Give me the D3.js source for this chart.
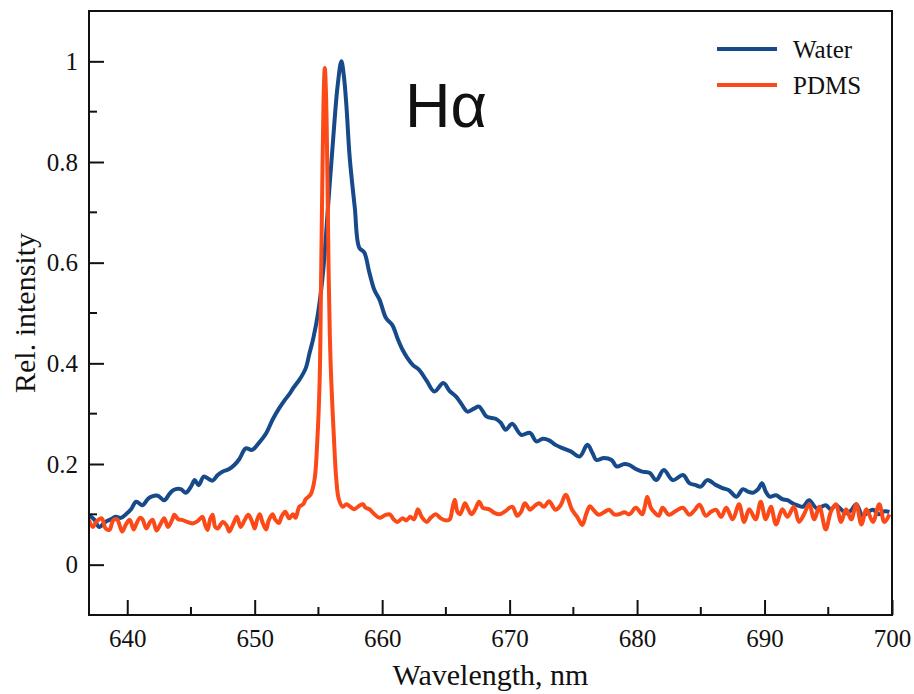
<!DOCTYPE html>
<html>
<head>
<meta charset="utf-8">
<script src="https://cdn.jsdelivr.net/npm/d3@7"></script>
<style>
  body { margin: 0; background: #fff; }
  text { font-family: "Liberation Serif", "Times New Roman", serif; fill: #111; }
</style>
</head>
<body>
<svg id="chart" width="914" height="694"></svg>
<script>
// ---- data ----
var waterWl = [637.0,637.4,637.8,638.3,638.7,639.1,639.5,639.9,640.3,640.7,641.2,641.6,641.9,642.4,642.9,643.3,643.6,644.2,644.6,645.0,645.3,645.6,646.0,646.4,646.7,647.1,647.5,648.0,648.4,648.8,649.3,649.8,650.3,650.9,651.4,651.9,652.3,652.75,653.0,653.5,654.0,654.3,654.6,654.97,655.36,655.75,656.15,656.5,656.8,657.0,657.2,657.45,657.85,658.2,658.6,659.0,659.4,659.8,660.3,660.8,661.2,661.6,662.0,662.4,662.9,663.5,664.1,664.8,665.3,665.8,666.2,666.7,667.2,667.6,668.2,668.9,669.3,669.7,670.2,670.9,671.6,672.1,672.6,673.1,673.6,674.2,674.8,675.5,676.1,676.5,676.8,677.4,678.0,678.4,679.0,679.4,679.9,680.4,681.0,681.5,682.1,682.8,683.6,684.1,684.6,685.0,685.5,686.2,686.7,687.2,687.8,688.3,688.7,689.1,689.5,689.8,690.1,690.4,690.9,691.4,691.8,692.2,692.6,693.0,693.5,694.1,694.8,695.2,695.6,696.0,696.4,696.8,697.2,697.7,698.1,698.5,699.0,699.4,699.8];
var waterVal = [0.098,0.09,0.075,0.085,0.09,0.095,0.093,0.10,0.11,0.125,0.118,0.13,0.135,0.137,0.128,0.14,0.148,0.15,0.143,0.155,0.168,0.158,0.175,0.17,0.167,0.178,0.185,0.19,0.198,0.21,0.231,0.228,0.241,0.261,0.288,0.31,0.325,0.34,0.35,0.367,0.39,0.42,0.45,0.50,0.58,0.71,0.844,0.95,1.0,0.97,0.91,0.81,0.71,0.63,0.62,0.58,0.545,0.526,0.49,0.476,0.45,0.427,0.41,0.397,0.387,0.365,0.344,0.361,0.345,0.334,0.32,0.304,0.31,0.314,0.294,0.29,0.282,0.268,0.28,0.258,0.262,0.245,0.25,0.247,0.238,0.231,0.225,0.215,0.238,0.222,0.208,0.212,0.208,0.195,0.2,0.198,0.19,0.185,0.182,0.168,0.188,0.168,0.178,0.162,0.158,0.155,0.168,0.158,0.152,0.148,0.135,0.15,0.145,0.143,0.15,0.162,0.145,0.135,0.138,0.13,0.128,0.122,0.118,0.115,0.128,0.112,0.118,0.11,0.118,0.11,0.102,0.108,0.12,0.097,0.104,0.109,0.1,0.106,0.105];

var pdmsWl = [637.0,637.3,637.6,638.0,638.3,638.6,638.9,639.2,639.6,639.9,640.2,640.5,640.7,641.0,641.2,641.5,641.8,642.0,642.3,642.6,642.9,643.2,643.5,643.7,644.0,644.3,644.7,645.1,645.5,645.9,646.1,646.3,646.5,646.7,646.9,647.1,647.5,647.8,648.0,648.3,648.6,648.9,649.2,649.5,649.8,650.0,650.2,650.4,650.6,650.9,651.1,651.4,651.6,651.9,652.1,652.4,652.7,653.0,653.2,653.5,653.8,654.0,654.4,654.7,654.9,655.1,655.2,655.3,655.4,655.5,655.6,655.7,655.8,655.9,656.0,656.2,656.4,656.6,656.9,657.2,657.5,657.8,658.2,658.5,658.7,659.0,659.4,659.8,660.2,660.6,660.9,661.2,661.6,661.9,662.2,662.5,662.8,663.1,663.5,663.8,664.2,664.6,665.0,665.3,665.5,665.7,665.9,666.1,666.3,666.5,666.8,667.0,667.3,667.6,667.9,668.4,668.8,669.2,669.6,670.2,670.6,670.9,671.2,671.6,671.8,672.3,672.7,673.1,673.6,674.0,674.4,674.9,675.3,675.7,676.0,676.3,676.6,677.0,677.4,677.8,678.2,678.6,679.0,679.4,679.9,680.4,680.6,680.8,681.1,681.4,681.7,682.0,682.5,683.0,683.6,684.1,684.5,684.9,685.4,685.8,686.2,686.6,687.0,687.5,688.0,688.4,688.8,689.3,689.7,690.1,690.5,690.9,691.4,691.8,692.3,692.7,693.1,693.5,693.9,694.3,694.8,695.2,695.6,696.0,696.4,696.8,697.2,697.6,698.0,698.5,699.0,699.4,699.8];
var pdmsVal = [0.089,0.075,0.086,0.092,0.072,0.069,0.088,0.09,0.066,0.08,0.089,0.07,0.08,0.093,0.09,0.072,0.085,0.089,0.068,0.08,0.092,0.075,0.088,0.099,0.09,0.089,0.085,0.082,0.086,0.095,0.08,0.069,0.09,0.099,0.075,0.072,0.085,0.078,0.066,0.08,0.095,0.075,0.088,0.099,0.085,0.072,0.09,0.1,0.085,0.07,0.088,0.1,0.09,0.083,0.095,0.105,0.092,0.1,0.093,0.115,0.12,0.13,0.14,0.17,0.24,0.37,0.55,0.75,0.92,0.987,0.93,0.78,0.58,0.45,0.37,0.26,0.17,0.13,0.115,0.12,0.115,0.11,0.117,0.12,0.113,0.11,0.1,0.093,0.098,0.1,0.09,0.085,0.092,0.088,0.095,0.09,0.11,0.095,0.085,0.093,0.1,0.092,0.088,0.09,0.11,0.129,0.105,0.1,0.11,0.122,0.108,0.1,0.11,0.125,0.113,0.11,0.103,0.1,0.105,0.115,0.097,0.105,0.122,0.109,0.113,0.122,0.115,0.126,0.109,0.118,0.139,0.109,0.095,0.079,0.1,0.116,0.108,0.099,0.104,0.109,0.1,0.1,0.104,0.1,0.113,0.1,0.115,0.135,0.112,0.103,0.097,0.113,0.099,0.106,0.113,0.099,0.108,0.119,0.097,0.105,0.109,0.095,0.113,0.09,0.12,0.085,0.11,0.09,0.125,0.09,0.115,0.08,0.11,0.095,0.115,0.085,0.1,0.12,0.09,0.115,0.07,0.105,0.12,0.085,0.11,0.09,0.12,0.08,0.11,0.085,0.12,0.085,0.1];

var seriesNames = ["Water", "PDMS"];
var seriesColors = ["#164a8a", "#fb4a17"];
var xTicks = [640, 650, 660, 670, 680, 690, 700];
var yTicks = [0, 0.2, 0.4, 0.6, 0.8, 1];

// ---- layout ----
var svg = d3.select("#chart");
var plotLeft = 89, plotRight = 892, plotTop = 11, plotBottom = 615;

var xScale = d3.scaleLinear().domain([637, 700]).range([plotLeft, plotRight]);
var yScale = d3.scaleLinear().domain([-0.1, 1.1]).range([plotBottom, plotTop]);

svg.append("defs").append("clipPath").attr("id", "plotclip")
    .append("rect")
    .attr("x", plotLeft).attr("y", plotTop)
    .attr("width", plotRight - plotLeft).attr("height", plotBottom - plotTop);

// lines
var line = d3.line()
    .x(function(d) { return xScale(d[0]); })
    .y(function(d) { return yScale(d[1]); })
    .curve(d3.curveCatmullRom.alpha(0.5));

var series = [
    d3.zip(waterWl, waterVal),
    d3.zip(pdmsWl, pdmsVal)
];

svg.append("g").attr("clip-path", "url(#plotclip)")
    .selectAll("path")
    .data(series)
    .enter()
    .append("path")
    .attr("d", line)
    .attr("fill", "none")
    .attr("stroke", function(d, i) { return seriesColors[i]; })
    .attr("stroke-width", 4)
    .attr("stroke-linejoin", "round");

// frame
svg.append("rect")
    .attr("x", plotLeft).attr("y", plotTop)
    .attr("width", plotRight - plotLeft).attr("height", plotBottom - plotTop)
    .attr("fill", "none")
    .attr("stroke", "#111")
    .attr("stroke-width", 2);

// x axis: ticks pointing inward
var xAxis = d3.axisBottom(xScale)
    .tickValues(xTicks)
    .tickSize(-15)
    .tickPadding(32)
    .tickFormat(d3.format("d"));

var gx = svg.append("g").attr("transform", "translate(0," + plotBottom + ")").call(xAxis);
gx.select(".domain").remove();
gx.selectAll(".tick line").attr("stroke", "#111").attr("stroke-width", 2);
gx.selectAll(".tick text")
    .attr("font-size", 25)
    .attr("font-family", "Liberation Serif, Times New Roman, serif")
    .attr("fill", "#111")
    .attr("dy", "0");

gx.selectAll(".minor")
    .data(d3.range(645, 700, 10))
    .enter()
    .append("line")
    .attr("class", "minor")
    .attr("x1", function(d) { return xScale(d); })
    .attr("x2", function(d) { return xScale(d); })
    .attr("y1", 0).attr("y2", -8)
    .attr("stroke", "#111").attr("stroke-width", 2);

// y axis
var yAxis = d3.axisLeft(yScale)
    .tickValues(yTicks)
    .tickSize(-15)
    .tickPadding(11)
    .tickFormat(function(d) { return d === 0 ? "0" : d === 1 ? "1" : d3.format(".1f")(d); });

var gy = svg.append("g").attr("transform", "translate(" + plotLeft + ",0)").call(yAxis);
gy.select(".domain").remove();
gy.selectAll(".tick line").attr("stroke", "#111").attr("stroke-width", 2);
gy.selectAll(".tick text")
    .attr("font-size", 25)
    .attr("font-family", "Liberation Serif, Times New Roman, serif")
    .attr("fill", "#111");

gy.selectAll(".minor")
    .data([0.1, 0.3, 0.5, 0.7, 0.9])
    .enter()
    .append("line")
    .attr("class", "minor")
    .attr("y1", function(d) { return yScale(d); })
    .attr("y2", function(d) { return yScale(d); })
    .attr("x1", 0).attr("x2", 8)
    .attr("stroke", "#111").attr("stroke-width", 2);

// axis titles
svg.append("text")
    .attr("x", (plotLeft + plotRight) / 2)
    .attr("y", 685)
    .attr("text-anchor", "middle")
    .attr("font-size", 30)
    .text("Wavelength, nm");

svg.append("text")
    .attr("transform", "translate(35," + ((plotTop + plotBottom) / 2) + ") rotate(-90)")
    .attr("text-anchor", "middle")
    .attr("font-size", 30)
    .text("Rel. intensity");

// H-alpha label
svg.append("text")
    .attr("x", 405)
    .attr("y", 127)
    .attr("font-size", 63)
    .style("font-family", "Liberation Sans, Arial, sans-serif")
    .text("Hα");

// legend
var legend = svg.append("g").selectAll("g")
    .data(seriesNames)
    .enter()
    .append("g")
    .attr("transform", function(d, i) { return "translate(717," + (49 + i * 36) + ")"; });

legend.append("line")
    .attr("x1", 0).attr("x2", 60)
    .attr("y1", 0).attr("y2", 0)
    .attr("stroke", function(d, i) { return seriesColors[i]; })
    .attr("stroke-width", 4);

legend.append("text")
    .attr("x", 76)
    .attr("y", 9)
    .attr("font-size", 25)
    .text(function(d) { return d; });
</script>
</body>
</html>
